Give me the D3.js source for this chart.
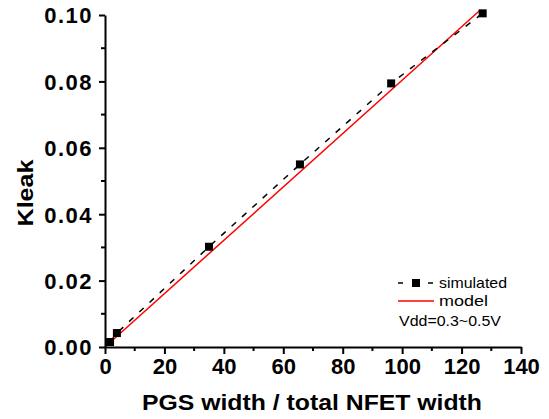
<!DOCTYPE html>
<html><head><meta charset="utf-8">
<script src="https://cdn.jsdelivr.net/npm/d3@7"></script>
<style>body{margin:0;background:#fff}svg{display:block}</style>
</head><body>
<svg id="c" width="549" height="419"></svg>
<script>
const simX = [1.7, 4.0, 35.0, 65.6, 96.3, 127.1];
const simY = [0.0015, 0.0042, 0.0302, 0.0550, 0.0794, 0.1005];
const modelX = [0, 126.3];
const modelY = [0, 0.1015];
const xTicks = [0, 20, 40, 60, 80, 100, 120, 140];
const yTicks = [0.00, 0.02, 0.04, 0.06, 0.08, 0.10];
const legendLabels = ["simulated", "model", "Vdd=0.3~0.5V"];

const svg = d3.select("#c");
const x = d3.scaleLinear().domain([0, 140]).range([105, 521]);
const y = d3.scaleLinear().domain([0, 0.10]).range([347, 15]);
const font = "Liberation Sans, Arial, sans-serif";

const line = d3.line().x(d => x(d[0])).y(d => y(d[1]));
svg.append("path").datum(modelX.map((v, i) => [v, modelY[i]]))
  .attr("d", line).attr("fill", "none").attr("stroke", "#ff0000").attr("stroke-width", 1.5);
const sim = simX.map((v, i) => [v, simY[i]]);
svg.append("path").datum(sim)
  .attr("d", line).attr("fill", "none").attr("stroke", "#000").attr("stroke-width", 1.5)
  .attr("stroke-dasharray", "6,8");
svg.selectAll("rect.pt").data(sim).enter().append("rect")
  .attr("x", d => x(d[0]) - 4).attr("y", d => y(d[1]) - 4)
  .attr("width", 8).attr("height", 8).attr("fill", "#000");

const xAxis = d3.axisBottom(x).tickValues(xTicks).tickFormat(d3.format("d")).tickSize(7).tickSizeOuter(0);
const gx = svg.append("g").attr("transform", "translate(0,347)").call(xAxis);
const yAxis = d3.axisLeft(y).tickValues(yTicks).tickFormat(d3.format(".2f")).tickSize(6).tickSizeOuter(0);
const gy = svg.append("g").attr("transform", "translate(105,0)").call(yAxis);
[gx, gy].forEach(g => {
  g.select(".domain").attr("stroke", "#000").attr("stroke-width", 2);
  g.selectAll(".tick line").attr("stroke", "#000").attr("stroke-width", 2);
  g.selectAll(".tick text").attr("font-family", font).attr("font-weight", "bold")
    .attr("font-size", 22).attr("fill", "#000");
});
gx.selectAll(".tick text").attr("y", 11).attr("dy", "0.71em");
gy.selectAll(".tick text").attr("x", -12).attr("dy", "0.36em").attr("letter-spacing", 1.5);
const xMinor = d3.range(10, 140, 20);
svg.selectAll("line.xm").data(xMinor).enter().append("line")
  .attr("x1", d => x(d)).attr("x2", d => x(d)).attr("y1", 347).attr("y2", 351)
  .attr("stroke", "#000").attr("stroke-width", 2);
const yMinor = [0.01, 0.03, 0.05, 0.07, 0.09];
svg.selectAll("line.ym").data(yMinor).enter().append("line")
  .attr("x1", 105).attr("x2", 101).attr("y1", d => y(d)).attr("y2", d => y(d))
  .attr("stroke", "#000").attr("stroke-width", 2);

svg.append("text").attr("x", 312).attr("y", 410).attr("text-anchor", "middle")
  .attr("font-family", font).attr("font-weight", "bold").attr("font-size", 22)
  .attr("textLength", 340).attr("lengthAdjust", "spacingAndGlyphs")
  .text("PGS width / total NFET width");
svg.append("text").attr("transform", "translate(33,193) rotate(-90)").attr("text-anchor", "middle")
  .attr("font-family", font).attr("font-weight", "bold").attr("font-size", 22)
  .attr("textLength", 67).attr("lengthAdjust", "spacingAndGlyphs")
  .text("Kleak");

const lg = svg.append("g");
lg.append("line").attr("x1", 398).attr("x2", 403).attr("y1", 283).attr("y2", 283)
  .attr("stroke", "#000").attr("stroke-width", 1.5);
lg.append("line").attr("x1", 428).attr("x2", 433).attr("y1", 283).attr("y2", 283)
  .attr("stroke", "#000").attr("stroke-width", 1.5);
lg.append("rect").attr("x", 412).attr("y", 279).attr("width", 8).attr("height", 8).attr("fill", "#000");
lg.append("line").attr("x1", 398).attr("x2", 434).attr("y1", 301).attr("y2", 301)
  .attr("stroke", "#ff0000").attr("stroke-width", 1.5);
lg.append("text").attr("x", 439).attr("y", 287.5).attr("font-family", font).attr("font-size", 15)
  .attr("textLength", 68).attr("lengthAdjust", "spacingAndGlyphs").text(legendLabels[0]);
lg.append("text").attr("x", 439).attr("y", 306).attr("font-family", font).attr("font-size", 15)
  .attr("textLength", 49).attr("lengthAdjust", "spacingAndGlyphs").text(legendLabels[1]);
lg.append("text").attr("x", 399).attr("y", 326).attr("font-family", font).attr("font-size", 15)
  .attr("textLength", 102).attr("lengthAdjust", "spacingAndGlyphs").text(legendLabels[2]);
</script>
</body></html>
